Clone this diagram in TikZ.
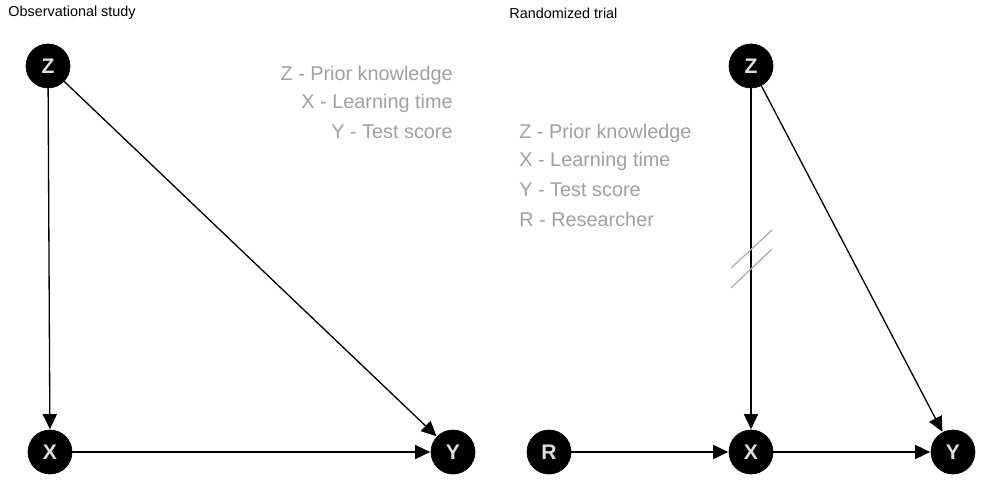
\documentclass[tikz,border=0pt]{standalone}
\usepackage{fontspec}
\setmainfont{Liberation Sans}
\usetikzlibrary{arrows.meta}
\definecolor{nodetext}{HTML}{DDDDDD}
\definecolor{legendgray}{HTML}{A0A0A0}
\definecolor{breakgray}{HTML}{AAAAAA}
\tikzset{
  dagnode/.style={circle, fill=black, draw=black, minimum size=0.88cm, inner sep=0pt,
    text=nodetext, font=\fontsize{12pt}{14pt}\selectfont\bfseries},
  edge/.style={line width=0.75pt, -{Triangle[length=8.5pt,width=8pt]}, shorten >=0.3pt},
  titletext/.style={anchor=west, font=\fontsize{8.2pt}{10pt}\selectfont, inner sep=0pt},
  legendtext/.style={text=legendgray, font=\fontsize{11.3pt}{13pt}\selectfont, inner sep=0pt},
  breakmark/.style={draw=breakgray, line width=0.7pt}
}
\begin{document}
\begin{tikzpicture}[x=0.02cm, y=-0.02cm]
\useasboundingbox (0,0) rectangle (1000,500);
% titles
\node[titletext] (t1) at (8,13) {Observational study};
\node[titletext] (t2) at (509,13) {Randomized trial};
% left panel
\node[dagnode] (Z1) at (48,66) {Z};
\node[dagnode] (X1) at (50,452) {X};
\node[dagnode] (Y1) at (453,452) {Y};
\draw[edge] (Z1) -- (X1);
\draw[edge] (Z1) -- (Y1);
\draw[edge] (X1) -- (Y1);
\node[legendtext, anchor=east] (l1) at (453,75) {Z - Prior knowledge};
\node[legendtext, anchor=east] (l2) at (453,103) {X - Learning time};
\node[legendtext, anchor=east] (l3) at (453,132) {Y - Test score};
% right panel
\node[dagnode] (Z2) at (751,66) {Z};
\node[dagnode] (R2) at (549,452) {R};
\node[dagnode] (X2) at (751,452) {X};
\node[dagnode] (Y2) at (953,452) {Y};
\draw[edge] (Z2) -- (X2);
\draw[edge] (Z2) -- (Y2);
\draw[edge] (R2) -- (X2);
\draw[edge] (X2) -- (Y2);
\draw[breakmark] (731,268) -- (772,230);
\draw[breakmark] (731,288) -- (772,249);
\node[legendtext, anchor=west] (r1) at (519,133) {Z - Prior knowledge};
\node[legendtext, anchor=west] (r2) at (519,161) {X - Learning time};
\node[legendtext, anchor=west] (r3) at (519,190) {Y - Test score};
\node[legendtext, anchor=west] (r4) at (519,219) {R - Researcher};
\end{tikzpicture}
\end{document}
